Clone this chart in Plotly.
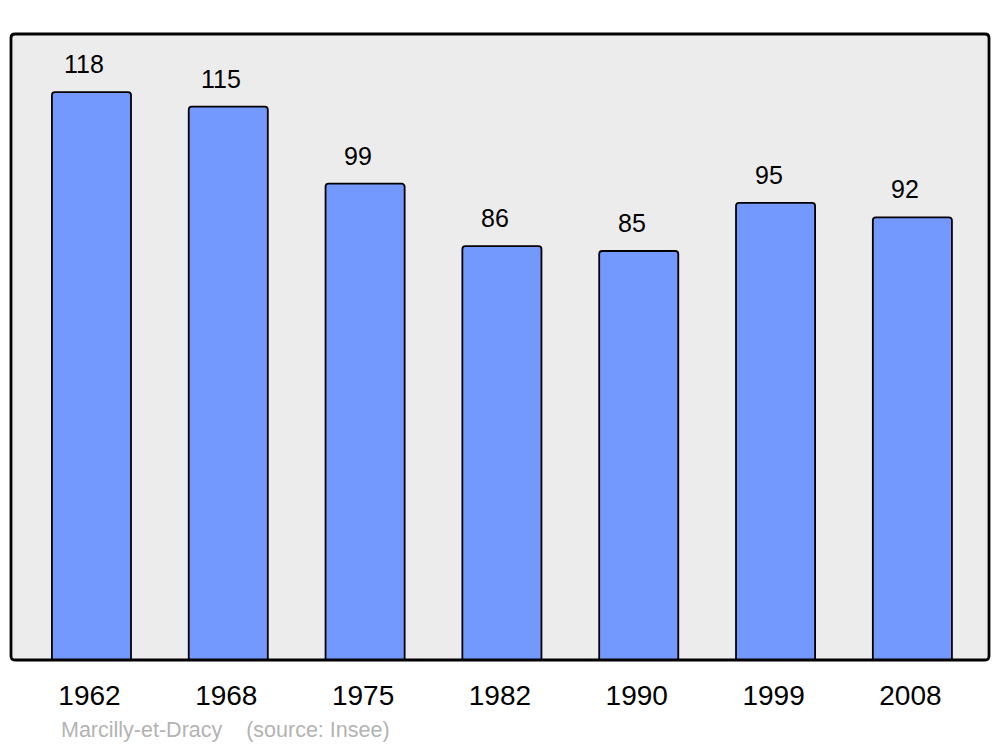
import plotly.graph_objects as go

years = ["1962", "1968", "1975", "1982", "1990", "1999", "2008"]
population = [118, 115, 99, 86, 85, 95, 92]
footer_text = "Marcilly-et-Dracy    (source: Insee)"

W, H = 1000, 747
ml, mr, mt, mb = 11, 11, 34, 87
pw = W - ml - mr
ph = H - mt - mb

fig = go.Figure()
fig.add_trace(go.Bar(
    x=list(range(len(years))), y=population, width=0.578,
    marker=dict(color="#7399ff", line=dict(color="#000000", width=1.8), cornerradius=3),
    hoverinfo="skip",
))

for i, v in enumerate(population):
    fig.add_annotation(x=i, y=v, text=str(v), showarrow=False, xref="x", yref="y",
                       yanchor="bottom", yshift=12, xshift=-7,
                       font=dict(family="Liberation Sans, Arial", size=25, color="#000000"))

fig.add_annotation(x=(59 - ml) / pw, y=(ph + mt - 730) / ph,
                   xref="paper", yref="paper", xanchor="left", yanchor="middle",
                   text=footer_text, showarrow=False,
                   font=dict(family="Liberation Sans, Arial", size=21.5, color="#b3b3b3"))

# rounded frame around plot area
r = 4
rx, ry = r / pw, r / ph
path = (f"M {rx},0 L {1-rx},0 Q 1,0 1,{ry} L 1,{1-ry} Q 1,1 {1-rx},1 "
        f"L {rx},1 Q 0,1 0,{1-ry} L 0,{ry} Q 0,0 {rx},0 Z")
fig.add_shape(type="path", xref="paper", yref="paper", path=path,
              line=dict(color="#000000", width=2.8), layer="above")

fig.update_layout(
    width=W, height=H,
    margin=dict(l=ml, r=mr, t=mt, b=mb),
    paper_bgcolor="#ffffff", plot_bgcolor="#ececec",
    showlegend=False,
    xaxis=dict(range=[-0.588, 6.56], tickmode="array", tickvals=list(range(len(years))),
               ticktext=years, showgrid=False, zeroline=False, showline=False,
               ticks="", ticklabelstandoff=16, ticklabelshift=-2,
               tickfont=dict(family="Liberation Sans, Arial", size=28, color="#000000")),
    yaxis=dict(range=[0, 130.1], showgrid=False, zeroline=False, showticklabels=False,
               showline=False, ticks=""),
)

fig.write_html("out.html", config={"displayModeBar": False},
               post_script="document.body.style.margin='0';document.body.style.overflow='hidden';")
